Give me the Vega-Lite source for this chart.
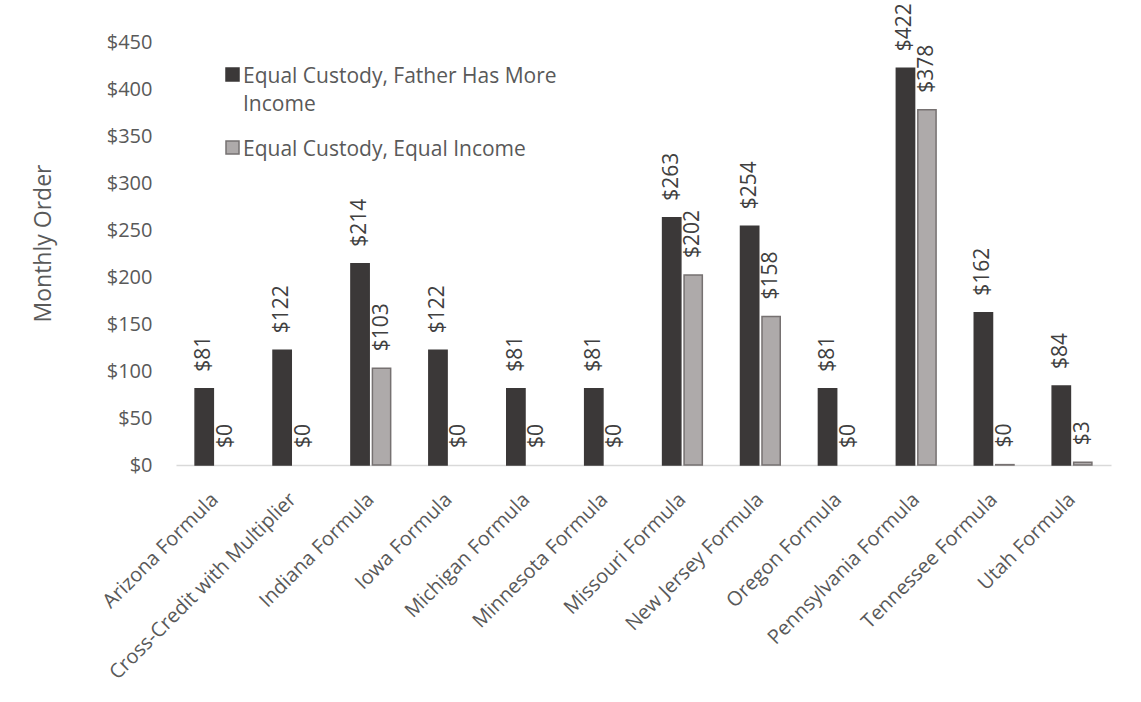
{
  "$schema": "https://vega.github.io/schema/vega-lite/v6.json",
  "width": 935,
  "height": 423,
  "autosize": {"type": "none"},
  "padding": {"left": 176, "top": 42, "right": 30, "bottom": 237},
  "background": "white",
  "config": {
    "font": "Open Sans",
    "view": {"stroke": null}
  },
  "data": {
    "values": [
      {"formula": "Arizona Formula", "series": "Equal Custody, Father Has More Income", "value": 81},
      {"formula": "Arizona Formula", "series": "Equal Custody, Equal Income", "value": 0},
      {"formula": "Cross-Credit with Multiplier", "series": "Equal Custody, Father Has More Income", "value": 122},
      {"formula": "Cross-Credit with Multiplier", "series": "Equal Custody, Equal Income", "value": 0},
      {"formula": "Indiana Formula", "series": "Equal Custody, Father Has More Income", "value": 214},
      {"formula": "Indiana Formula", "series": "Equal Custody, Equal Income", "value": 103},
      {"formula": "Iowa Formula", "series": "Equal Custody, Father Has More Income", "value": 122},
      {"formula": "Iowa Formula", "series": "Equal Custody, Equal Income", "value": 0},
      {"formula": "Michigan Formula", "series": "Equal Custody, Father Has More Income", "value": 81},
      {"formula": "Michigan Formula", "series": "Equal Custody, Equal Income", "value": 0},
      {"formula": "Minnesota Formula", "series": "Equal Custody, Father Has More Income", "value": 81},
      {"formula": "Minnesota Formula", "series": "Equal Custody, Equal Income", "value": 0},
      {"formula": "Missouri Formula", "series": "Equal Custody, Father Has More Income", "value": 263},
      {"formula": "Missouri Formula", "series": "Equal Custody, Equal Income", "value": 202},
      {"formula": "New Jersey Formula", "series": "Equal Custody, Father Has More Income", "value": 254},
      {"formula": "New Jersey Formula", "series": "Equal Custody, Equal Income", "value": 158},
      {"formula": "Oregon Formula", "series": "Equal Custody, Father Has More Income", "value": 81},
      {"formula": "Oregon Formula", "series": "Equal Custody, Equal Income", "value": 0},
      {"formula": "Pennsylvania Formula", "series": "Equal Custody, Father Has More Income", "value": 422},
      {"formula": "Pennsylvania Formula", "series": "Equal Custody, Equal Income", "value": 378},
      {"formula": "Tennessee Formula", "series": "Equal Custody, Father Has More Income", "value": 162},
      {"formula": "Tennessee Formula", "series": "Equal Custody, Equal Income", "value": 0.4},
      {"formula": "Utah Formula", "series": "Equal Custody, Father Has More Income", "value": 84},
      {"formula": "Utah Formula", "series": "Equal Custody, Equal Income", "value": 3}
    ]
  },
  "encoding": {
    "x": {
      "field": "formula",
      "type": "nominal",
      "sort": null,
      "scale": {"paddingInner": 0.49, "paddingOuter": 0.245},
      "axis": {
        "title": null,
        "labelAngle": -45,
        "labelFontSize": 20,
        "labelColor": "#595959",
        "labelPadding": 24,
        "labelOffset": -7,
        "labelLimit": 400,
        "ticks": false,
        "tickSize": 0,
        "domainColor": "#d9d9d9",
        "domainWidth": 1.5
      }
    },
    "xOffset": {
      "field": "series",
      "type": "nominal",
      "sort": ["Equal Custody, Father Has More Income", "Equal Custody, Equal Income"],
      "scale": {"paddingInner": 0.15}
    },
    "y": {
      "field": "value",
      "type": "quantitative",
      "scale": {"domain": [0, 450], "nice": false},
      "axis": {
        "title": "Monthly  Order",
        "titleFontSize": 23,
        "titleFontWeight": "normal",
        "titleColor": "#595959",
        "titlePadding": 51,
        "titleY": 201,
        "values": [0, 50, 100, 150, 200, 250, 300, 350, 400, 450],
        "format": "$.0f",
        "labelFontSize": 20,
        "labelColor": "#595959",
        "labelPadding": 24,
        "ticks": false,
        "tickSize": 0,
        "domain": false,
        "grid": false
      }
    }
  },
  "layer": [
    {
      "mark": {"type": "bar"},
      "encoding": {
        "fill": {
          "field": "series",
          "type": "nominal",
          "sort": ["Equal Custody, Father Has More Income", "Equal Custody, Equal Income"],
          "scale": {"range": ["#3b3838", "#aeaaaa"]},
          "legend": {
            "title": null,
            "orient": "none",
            "legendX": 46,
            "legendY": 22,
            "symbolType": "square",
            "symbolSize": 169,
            "symbolStrokeWidth": 1.5,
            "labelFontSize": 21,
            "labelColor": "#595959",
            "labelLimit": 500,
            "labelOffset": 0,
            "labelBaseline": "top",
            "rowPadding": 22,
            "labelExpr": "datum.label == 'Equal Custody, Father Has More Income' ? ['Equal Custody, Father Has More', 'Income'] : datum.label",
            "encode": {
              "labels": {"update": {"lineHeight": {"value": 28}, "dy": {"value": -9}}},
              "symbols": {"update": {"stroke": {"signal": "datum.value == 'Equal Custody, Equal Income' ? '#767171' : '#3b3838'"}}}
            }
          }
        },
        "stroke": {
          "field": "series",
          "type": "nominal",
          "sort": ["Equal Custody, Father Has More Income", "Equal Custody, Equal Income"],
          "scale": {"range": ["#3b3838", "#767171"]},
          "legend": null
        },
        "strokeWidth": {"condition": {"test": "datum.value > 0", "value": 1.5}, "value": 0}
      }
    },
    {
      "mark": {
        "type": "text",
        "angle": 270,
        "align": "left",
        "baseline": "middle",
        "dx": 17,
        "fontSize": 21,
        "color": "#404040"
      },
      "encoding": {
        "text": {"field": "value", "type": "quantitative", "format": "$.0f"}
      }
    }
  ]
}
